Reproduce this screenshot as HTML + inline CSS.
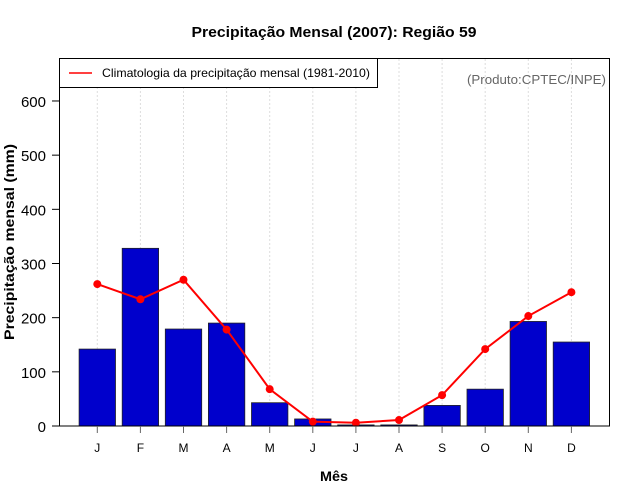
<!DOCTYPE html>
<html><head><meta charset="utf-8"><style>body{margin:0;background:#fff}svg{display:block;font-family:"Liberation Sans",sans-serif}</style></head>
<body>
<svg id="chart" width="640" height="500" xmlns="http://www.w3.org/2000/svg">
<text x="334" y="37" text-anchor="middle" font-size="15" font-weight="bold" textLength="285" lengthAdjust="spacingAndGlyphs">Precipitação Mensal (2007): Região 59</text>
<g id="grid"></g>
<g id="bars"></g>
<g id="line"></g>
<rect x="59.5" y="58.5" width="550" height="367.5" fill="none" stroke="#000" stroke-width="1"/>
<g id="yaxis"></g>
<g id="xaxis"></g>
<text transform="translate(14,242) rotate(-90)" text-anchor="middle" font-size="14" font-weight="bold" textLength="196" lengthAdjust="spacingAndGlyphs">Precipitação mensal (mm)</text>
<text x="334" y="481" text-anchor="middle" font-size="14" font-weight="bold" textLength="28" lengthAdjust="spacingAndGlyphs">Mês</text>
<g>
<rect x="59.5" y="58.5" width="318" height="29" fill="#fff" stroke="#000"/>
<line x1="69" y1="73" x2="92" y2="73" stroke="#f00" stroke-width="1.5"/>
<text x="102" y="77" font-size="12" textLength="268" lengthAdjust="spacingAndGlyphs">Climatologia da precipitação mensal (1981-2010)</text>
</g>
<text x="606" y="84" text-anchor="end" font-size="13" fill="#666" textLength="139" lengthAdjust="spacingAndGlyphs">(Produto:CPTEC/INPE)</text>
</svg>
<script>
const months=["J","F","M","A","M","J","J","A","S","O","N","D"];
const observed=[142,328,179,190,43,13,2,2,38,68,193,155];
const climatology=[262,234,270,178,68,8,6,11,57,142,203,247];
const yTicks=[0,100,200,300,400,500,600];
const NS="http://www.w3.org/2000/svg";
const x=i=>97.3+i*43.1;
const y=v=>426-v*0.5417;
function mk(tag,attrs,parent){const e=document.createElementNS(NS,tag);for(const k in attrs)e.setAttribute(k,attrs[k]);document.getElementById(parent).appendChild(e);return e;}
months.forEach((m,i)=>{
 const g=mk('line',{x1:x(i),x2:x(i),y1:59,y2:426,stroke:'#ddd','stroke-dasharray':'2,2'},'grid');
 
 
 const b=mk('rect',{x:x(i)-18.2,y:y(observed[i]),width:36.4,height:426-y(observed[i]),fill:'#0000cc',stroke:'#222','stroke-width':0.8},'bars');
 
 
 const t=mk('line',{x1:x(i),x2:x(i),y1:426,y2:433,stroke:'#666'},'xaxis');
 
 
 const l=mk('text',{x:x(i),y:452,'text-anchor':'middle','font-size':12},'xaxis');
 l.textContent=m;
 
 
});
const pl=mk('polyline',{points:climatology.map((v,i)=>x(i)+','+y(v)).join(' '),fill:'none',stroke:'#f00','stroke-width':2},'line');


climatology.forEach((v,i)=>{
 const c=mk('circle',{cx:x(i),cy:y(v),r:4,fill:'#f00'},'line');
 
 
});
mk('line',{x1:59.5,x2:59.5,y1:y(0),y2:y(600),stroke:'#000'},'yaxis');
yTicks.forEach(v=>{
 const t=mk('line',{x1:52,x2:59.5,y1:y(v),y2:y(v),stroke:'#000'},'yaxis');
 
 
 const l=mk('text',{x:46,y:y(v)+6,'text-anchor':'end','font-size':15},'yaxis');
 l.textContent=v;
 
 
});
</script>
</body></html>
